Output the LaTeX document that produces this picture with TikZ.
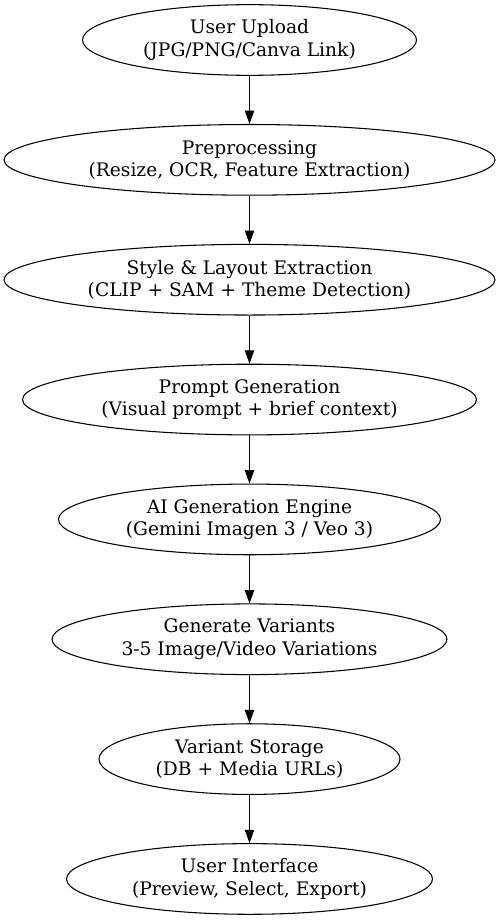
\documentclass[tikz,border=0pt]{standalone}
\usepackage{fontspec}
\setmainfont{DejaVu Serif}
\usetikzlibrary{arrows.meta,shapes.geometric}

\tikzset{stage/.style={draw,ellipse,line width=0.8pt,inner sep=0pt,
                       minimum height=53pt,align=center,
                       font=\fontsize{14}{16.8}\selectfont}}
\tikzset{flow/.style={-{Triangle[length=10pt,width=7pt]},line width=0.8pt}}

\begin{document}
\begin{tikzpicture}[x=0.75pt,y=-0.75pt]
    \useasboundingbox (0,0) rectangle (499,920);
    \foreach \w/\t [count=\i] in {
        250.5/{User Upload\\(JPG/PNG/Canva Link)},
        368.25/{Preprocessing\\(Resize, OCR, Feature Extraction)},
        368.25/{Style \& Layout Extraction\\(CLIP + SAM + Theme Detection)},
        340.5/{Prompt Generation\\(Visual prompt + brief context)},
        286.5/{AI Generation Engine\\(Gemini Imagen 3 / Veo 3)},
        296.25/{Generate Variants\\3-5 Image/Video Variations},
        225.75/{Variant Storage\\(DB + Media URLs)},
        274.5/{User Interface\\(Preview, Select, Export)}}{%
          \node[stage,minimum width=\w pt] (s\i) at (249.5,40+119.85*\i-119.85) {\t};
        }
    \foreach \i [evaluate=\i as \j using int(\i+1)] in {1,...,7}{%
          \draw[flow] (s\i) -- (s\j);
        }
\end{tikzpicture}
\end{document}
